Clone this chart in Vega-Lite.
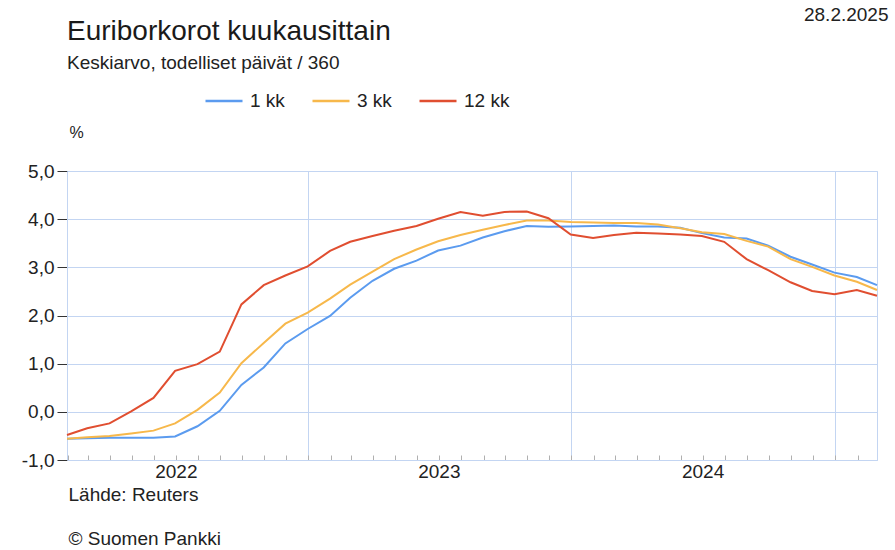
{
  "$schema": "https://vega.github.io/schema/vega-lite/v6.json",
  "width": 810,
  "height": 289,
  "autosize": {"type": "none"},
  "padding": {"left": 67, "top": 171, "right": 18, "bottom": 90},
  "background": "white",
  "config": {
    "font": "Liberation Sans",
    "view": {"stroke": "#c3d5f2", "strokeWidth": 1},
    "axis": {"labelFont": "Liberation Sans", "titleFont": "Liberation Sans"}
  },
  "title": {
    "text": "Euriborkorot kuukausittain",
    "subtitle": "Keskiarvo, todelliset päivät / 360",
    "anchor": "start",
    "frame": "group",
    "fontSize": 28,
    "fontWeight": "normal",
    "color": "#1a1a1a",
    "subtitleFontSize": 19,
    "subtitleColor": "#222222",
    "subtitlePadding": 8,
    "offset": -68
  },
  "data": {
    "values": [
      {"d": "2022-01-31", "s": "1 kk", "v": -0.56}, {"d": "2022-02-28", "s": "1 kk", "v": -0.55}, {"d": "2022-03-31", "s": "1 kk", "v": -0.54}, {"d": "2022-04-30", "s": "1 kk", "v": -0.54}, {"d": "2022-05-31", "s": "1 kk", "v": -0.54}, {"d": "2022-06-30", "s": "1 kk", "v": -0.51}, {"d": "2022-07-31", "s": "1 kk", "v": -0.30}, {"d": "2022-08-31", "s": "1 kk", "v": 0.02}, {"d": "2022-09-30", "s": "1 kk", "v": 0.56}, {"d": "2022-10-31", "s": "1 kk", "v": 0.92}, {"d": "2022-11-30", "s": "1 kk", "v": 1.42}, {"d": "2022-12-31", "s": "1 kk", "v": 1.72},
      {"d": "2023-01-31", "s": "1 kk", "v": 1.99}, {"d": "2023-02-28", "s": "1 kk", "v": 2.37}, {"d": "2023-03-31", "s": "1 kk", "v": 2.72}, {"d": "2023-04-30", "s": "1 kk", "v": 2.97}, {"d": "2023-05-31", "s": "1 kk", "v": 3.14}, {"d": "2023-06-30", "s": "1 kk", "v": 3.35}, {"d": "2023-07-31", "s": "1 kk", "v": 3.45}, {"d": "2023-08-31", "s": "1 kk", "v": 3.62}, {"d": "2023-09-30", "s": "1 kk", "v": 3.75}, {"d": "2023-10-31", "s": "1 kk", "v": 3.86}, {"d": "2023-11-30", "s": "1 kk", "v": 3.84}, {"d": "2023-12-31", "s": "1 kk", "v": 3.85},
      {"d": "2024-01-31", "s": "1 kk", "v": 3.86}, {"d": "2024-02-29", "s": "1 kk", "v": 3.87}, {"d": "2024-03-31", "s": "1 kk", "v": 3.85}, {"d": "2024-04-30", "s": "1 kk", "v": 3.85}, {"d": "2024-05-31", "s": "1 kk", "v": 3.82}, {"d": "2024-06-30", "s": "1 kk", "v": 3.71}, {"d": "2024-07-31", "s": "1 kk", "v": 3.62}, {"d": "2024-08-31", "s": "1 kk", "v": 3.60}, {"d": "2024-09-30", "s": "1 kk", "v": 3.45}, {"d": "2024-10-31", "s": "1 kk", "v": 3.22}, {"d": "2024-11-30", "s": "1 kk", "v": 3.06}, {"d": "2024-12-31", "s": "1 kk", "v": 2.89},
      {"d": "2025-01-31", "s": "1 kk", "v": 2.80}, {"d": "2025-02-28", "s": "1 kk", "v": 2.63},
      {"d": "2022-01-31", "s": "3 kk", "v": -0.56}, {"d": "2022-02-28", "s": "3 kk", "v": -0.53}, {"d": "2022-03-31", "s": "3 kk", "v": -0.50}, {"d": "2022-04-30", "s": "3 kk", "v": -0.45}, {"d": "2022-05-31", "s": "3 kk", "v": -0.39}, {"d": "2022-06-30", "s": "3 kk", "v": -0.24}, {"d": "2022-07-31", "s": "3 kk", "v": 0.04}, {"d": "2022-08-31", "s": "3 kk", "v": 0.40}, {"d": "2022-09-30", "s": "3 kk", "v": 1.01}, {"d": "2022-10-31", "s": "3 kk", "v": 1.43}, {"d": "2022-11-30", "s": "3 kk", "v": 1.83}, {"d": "2022-12-31", "s": "3 kk", "v": 2.06},
      {"d": "2023-01-31", "s": "3 kk", "v": 2.35}, {"d": "2023-02-28", "s": "3 kk", "v": 2.64}, {"d": "2023-03-31", "s": "3 kk", "v": 2.91}, {"d": "2023-04-30", "s": "3 kk", "v": 3.17}, {"d": "2023-05-31", "s": "3 kk", "v": 3.37}, {"d": "2023-06-30", "s": "3 kk", "v": 3.54}, {"d": "2023-07-31", "s": "3 kk", "v": 3.67}, {"d": "2023-08-31", "s": "3 kk", "v": 3.78}, {"d": "2023-09-30", "s": "3 kk", "v": 3.88}, {"d": "2023-10-31", "s": "3 kk", "v": 3.97}, {"d": "2023-11-30", "s": "3 kk", "v": 3.97}, {"d": "2023-12-31", "s": "3 kk", "v": 3.94},
      {"d": "2024-01-31", "s": "3 kk", "v": 3.93}, {"d": "2024-02-29", "s": "3 kk", "v": 3.92}, {"d": "2024-03-31", "s": "3 kk", "v": 3.92}, {"d": "2024-04-30", "s": "3 kk", "v": 3.89}, {"d": "2024-05-31", "s": "3 kk", "v": 3.81}, {"d": "2024-06-30", "s": "3 kk", "v": 3.73}, {"d": "2024-07-31", "s": "3 kk", "v": 3.69}, {"d": "2024-08-31", "s": "3 kk", "v": 3.55}, {"d": "2024-09-30", "s": "3 kk", "v": 3.43}, {"d": "2024-10-31", "s": "3 kk", "v": 3.17}, {"d": "2024-11-30", "s": "3 kk", "v": 3.01}, {"d": "2024-12-31", "s": "3 kk", "v": 2.83},
      {"d": "2025-01-31", "s": "3 kk", "v": 2.70}, {"d": "2025-02-28", "s": "3 kk", "v": 2.53},
      {"d": "2022-01-31", "s": "12 kk", "v": -0.48}, {"d": "2022-02-28", "s": "12 kk", "v": -0.34}, {"d": "2022-03-31", "s": "12 kk", "v": -0.24}, {"d": "2022-04-30", "s": "12 kk", "v": 0.01}, {"d": "2022-05-31", "s": "12 kk", "v": 0.29}, {"d": "2022-06-30", "s": "12 kk", "v": 0.85}, {"d": "2022-07-31", "s": "12 kk", "v": 0.99}, {"d": "2022-08-31", "s": "12 kk", "v": 1.25}, {"d": "2022-09-30", "s": "12 kk", "v": 2.23}, {"d": "2022-10-31", "s": "12 kk", "v": 2.63}, {"d": "2022-11-30", "s": "12 kk", "v": 2.83}, {"d": "2022-12-31", "s": "12 kk", "v": 3.02},
      {"d": "2023-01-31", "s": "12 kk", "v": 3.34}, {"d": "2023-02-28", "s": "12 kk", "v": 3.53}, {"d": "2023-03-31", "s": "12 kk", "v": 3.65}, {"d": "2023-04-30", "s": "12 kk", "v": 3.76}, {"d": "2023-05-31", "s": "12 kk", "v": 3.86}, {"d": "2023-06-30", "s": "12 kk", "v": 4.01}, {"d": "2023-07-31", "s": "12 kk", "v": 4.15}, {"d": "2023-08-31", "s": "12 kk", "v": 4.07}, {"d": "2023-09-30", "s": "12 kk", "v": 4.15}, {"d": "2023-10-31", "s": "12 kk", "v": 4.16}, {"d": "2023-11-30", "s": "12 kk", "v": 4.02}, {"d": "2023-12-31", "s": "12 kk", "v": 3.68},
      {"d": "2024-01-31", "s": "12 kk", "v": 3.61}, {"d": "2024-02-29", "s": "12 kk", "v": 3.67}, {"d": "2024-03-31", "s": "12 kk", "v": 3.72}, {"d": "2024-04-30", "s": "12 kk", "v": 3.70}, {"d": "2024-05-31", "s": "12 kk", "v": 3.68}, {"d": "2024-06-30", "s": "12 kk", "v": 3.65}, {"d": "2024-07-31", "s": "12 kk", "v": 3.53}, {"d": "2024-08-31", "s": "12 kk", "v": 3.17}, {"d": "2024-09-30", "s": "12 kk", "v": 2.94}, {"d": "2024-10-31", "s": "12 kk", "v": 2.69}, {"d": "2024-11-30", "s": "12 kk", "v": 2.51}, {"d": "2024-12-31", "s": "12 kk", "v": 2.44},
      {"d": "2025-01-31", "s": "12 kk", "v": 2.53}, {"d": "2025-02-28", "s": "12 kk", "v": 2.41}
    ]
  },
  "layer": [
    {
      "mark": {"type": "line", "strokeWidth": 2, "interpolate": "linear"},
      "encoding": {
        "x": {
          "field": "d",
          "type": "temporal",
          "scale": {"type": "utc", "domain": [{"year": 2022, "month": 1, "date": 31, "utc": true}, {"year": 2025, "month": 2, "date": 28, "utc": true}]},
          "axis": {
            "orient": "bottom",
            "tickCount": {"interval": "month", "step": 1},
            "domainColor": "#c3d5f2",
            "tickColor": "#b0b0b0",
            "tickSize": -5,
            "grid": true,
            "gridColor": "#c3d5f2",
            "gridOpacity": {"condition": {"test": "utcmonth(datum.value) == 0", "value": 1}, "value": 0},
            "labelExpr": "utcmonth(datum.value) == 6 ? utcFormat(datum.value, '%Y') : ''",
            "labelOverlap": false,
            "labelFlush": false,
            "labelBound": false,
            "labelFontSize": 19,
            "labelColor": "#222222",
            "labelPadding": 7,
            "title": "Lähde: Reuters",
            "titleFontSize": 19,
            "titleFontWeight": "normal",
            "titleColor": "#222222",
            "titleAnchor": "start",
            "titleAlign": "left",
            "titleBaseline": "alphabetic",
            "titleX": 1,
            "titleY": 40
          }
        },
        "y": {
          "field": "v",
          "type": "quantitative",
          "scale": {"domain": [-1, 5], "nice": false, "zero": false},
          "axis": {
            "values": [-1, 0, 1, 2, 3, 4, 5],
            "domainColor": "#c3d5f2",
            "tickColor": "#333333",
            "tickSize": 10,
            "grid": true,
            "gridColor": "#c3d5f2",
            "labelExpr": "replace(replace(format(datum.value, '.1f'), '.', ','), '−', '-')",
            "labelFontSize": 19,
            "labelColor": "#222222",
            "labelPadding": 3,
            "title": "%",
            "titleAngle": 0,
            "titleFontSize": 16,
            "titleFontWeight": "normal",
            "titleColor": "#222222",
            "titleAlign": "center",
            "titleBaseline": "middle",
            "titleX": 9,
            "titleY": -39
          }
        },
        "color": {
          "field": "s",
          "type": "nominal",
          "sort": ["1 kk", "3 kk", "12 kk"],
          "scale": {"domain": ["1 kk", "3 kk", "12 kk"], "range": ["#5b9bef", "#f7b84b", "#e04e30"]},
          "legend": {
            "orient": "none",
            "direction": "horizontal",
            "legendX": 137,
            "legendY": -90,
            "title": null,
            "symbolType": "stroke",
            "symbolSize": 1369,
            "symbolStrokeWidth": 2.5,
            "labelFontSize": 19,
            "labelColor": "#222222",
            "labelOffset": 6,
            "columnPadding": 22
          }
        },
        "order": {"field": "s", "sort": "ascending"}
      }
    },
    {
      "mark": {"type": "line", "strokeOpacity": 0},
      "encoding": {
        "x": {
          "field": "d",
          "type": "temporal",
          "scale": {"type": "utc", "domain": [{"year": 2022, "month": 1, "date": 31, "utc": true}, {"year": 2025, "month": 2, "date": 28, "utc": true}]},
          "axis": {
            "orient": "bottom",
            "domain": false,
            "ticks": false,
            "labels": false,
            "grid": false,
            "title": "© Suomen Pankki",
            "titleFontSize": 19,
            "titleFontWeight": "normal",
            "titleColor": "#222222",
            "titleAnchor": "start",
            "titleAlign": "left",
            "titleBaseline": "alphabetic",
            "titleX": 1,
            "titleY": 84
          }
        },
        "y": {
          "field": "v",
          "type": "quantitative",
          "scale": {"domain": [-1, 5], "nice": false, "zero": false},
          "axis": {
            "orient": "right",
            "domain": false,
            "ticks": false,
            "labels": false,
            "grid": false,
            "title": "28.2.2025",
            "titleAngle": 0,
            "titleFontSize": 19,
            "titleFontWeight": "normal",
            "titleColor": "#222222",
            "titleAlign": "right",
            "titleBaseline": "alphabetic",
            "titleX": 11,
            "titleY": -151
          }
        },
        "detail": {"field": "s", "type": "nominal"}
      }
    }
  ],
  "resolve": {"axis": {"x": "independent", "y": "independent"}}
}
